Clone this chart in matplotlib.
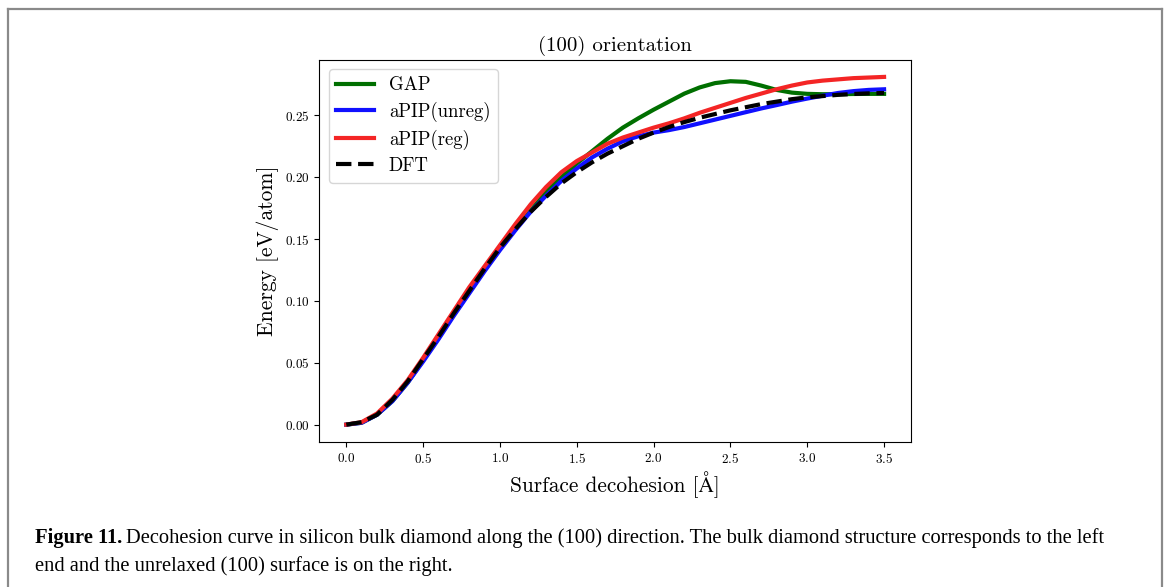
import matplotlib
matplotlib.use("Agg")
import matplotlib.pyplot as plt
from matplotlib.lines import Line2D

plt.rcParams["font.family"] = ["cmr10", "STIXGeneral"]
plt.rcParams["mathtext.fontset"] = "cm"
plt.rcParams["axes.formatter.use_mathtext"] = True

# =====================================================
# DATA
# =====================================================

x = [0.0, 0.1, 0.2, 0.3, 0.4, 0.5, 0.6, 0.7, 0.8, 0.9,
     1.0, 1.1, 1.2, 1.3, 1.4, 1.5, 1.6, 1.7, 1.8, 1.9,
     2.0, 2.1, 2.2, 2.3, 2.4, 2.5, 2.6, 2.7, 2.8, 2.9,
     3.0, 3.1, 3.2, 3.3, 3.4, 3.5]

gap = [0.0, 0.0015, 0.008, 0.019, 0.034, 0.052, 0.070, 0.089, 0.107, 0.125,
       0.142, 0.158, 0.173, 0.188, 0.200, 0.211, 0.221, 0.231, 0.240, 0.2475,
       0.2545, 0.261, 0.2675, 0.2725, 0.276, 0.2775, 0.277, 0.274, 0.2705, 0.2683,
       0.2673, 0.267, 0.267, 0.2672, 0.2673, 0.2673]

apip_unreg = [0.0, 0.0015, 0.008, 0.019, 0.034, 0.051, 0.069, 0.088, 0.106, 0.124,
              0.141, 0.157, 0.172, 0.185, 0.197, 0.207, 0.216, 0.223, 0.229, 0.233,
              0.236, 0.238, 0.2405, 0.2435, 0.2465, 0.2495, 0.2525, 0.2555, 0.2582, 0.261,
              0.2635, 0.2658, 0.268, 0.2695, 0.2705, 0.271]

apip_reg = [0.0, 0.002, 0.009, 0.021, 0.036, 0.054, 0.073, 0.092, 0.111, 0.128,
            0.145, 0.162, 0.178, 0.192, 0.204, 0.213, 0.220, 0.227, 0.232, 0.236,
            0.240, 0.2435, 0.2475, 0.252, 0.256, 0.260, 0.264, 0.2675, 0.271, 0.274,
            0.2765, 0.278, 0.279, 0.280, 0.2805, 0.281]

dft = [0.0, 0.002, 0.008, 0.020, 0.035, 0.053, 0.071, 0.090, 0.108, 0.126,
       0.143, 0.158, 0.172, 0.184, 0.195, 0.204, 0.212, 0.219, 0.225, 0.231,
       0.236, 0.2405, 0.2445, 0.248, 0.251, 0.254, 0.2565, 0.259, 0.261, 0.263,
       0.2645, 0.2655, 0.2665, 0.2672, 0.2677, 0.268]

# =====================================================
# FIGURE
# =====================================================

fig = plt.figure(figsize=(11.7, 5.87), dpi=100)
ax = fig.add_axes([0.273, 0.247, 0.5056, 0.6516])

ax.plot(x, gap, color="#006f00", lw=3, label="GAP")
ax.plot(x, apip_unreg, color="#1010ff", lw=3, label="aPIP(unreg)")
ax.plot(x, apip_reg, color="#f42525", lw=3, label="aPIP(reg)")
ax.plot(x, dft, color="black", lw=3, ls="--", label="DFT")

ax.set_title("(100) orientation", fontsize=15)
ax.set_xlabel("Surface decohesion [Å]", fontsize=15.4)
ax.set_ylabel("Energy [eV/atom]", fontsize=15.5)
ax.set_xticks([0.0, 0.5, 1.0, 1.5, 2.0, 2.5, 3.0, 3.5])
ax.set_yticks([0.00, 0.05, 0.10, 0.15, 0.20, 0.25])
ax.tick_params(labelsize=9.5)
ax.legend(loc="upper left", fontsize=13.5, labelspacing=0.4)

# border of the page figure
for seg in [((0.007, 0.993), (0.985, 0.985)),
            ((0.007, 0.007), (0.985, 0.0)),
            ((0.993, 0.993), (0.985, 0.0))]:
    fig.add_artist(Line2D(seg[0], seg[1], transform=fig.transFigure,
                          color="#8a8a8a", lw=1.6))

# caption
cap_font = ["Liberation Serif", "DejaVu Serif"]
cap_size = 14.8
t1 = fig.text(0.030, 0.075, "Figure 11.", fontsize=cap_size, fontweight="bold",
              family=cap_font, va="baseline")
fig.canvas.draw()
bb = t1.get_window_extent()
x2 = (bb.x1 + 4) / fig.bbox.width
fig.text(x2, 0.075,
         "Decohesion curve in silicon bulk diamond along the (100) direction. "
         "The bulk diamond structure corresponds to the left",
         fontsize=cap_size, family=cap_font, va="baseline")
fig.text(0.030, 0.028, "end and the unrelaxed (100) surface is on the right.",
         fontsize=cap_size, family=cap_font, va="baseline")

plt.savefig("out.png", dpi=100)
